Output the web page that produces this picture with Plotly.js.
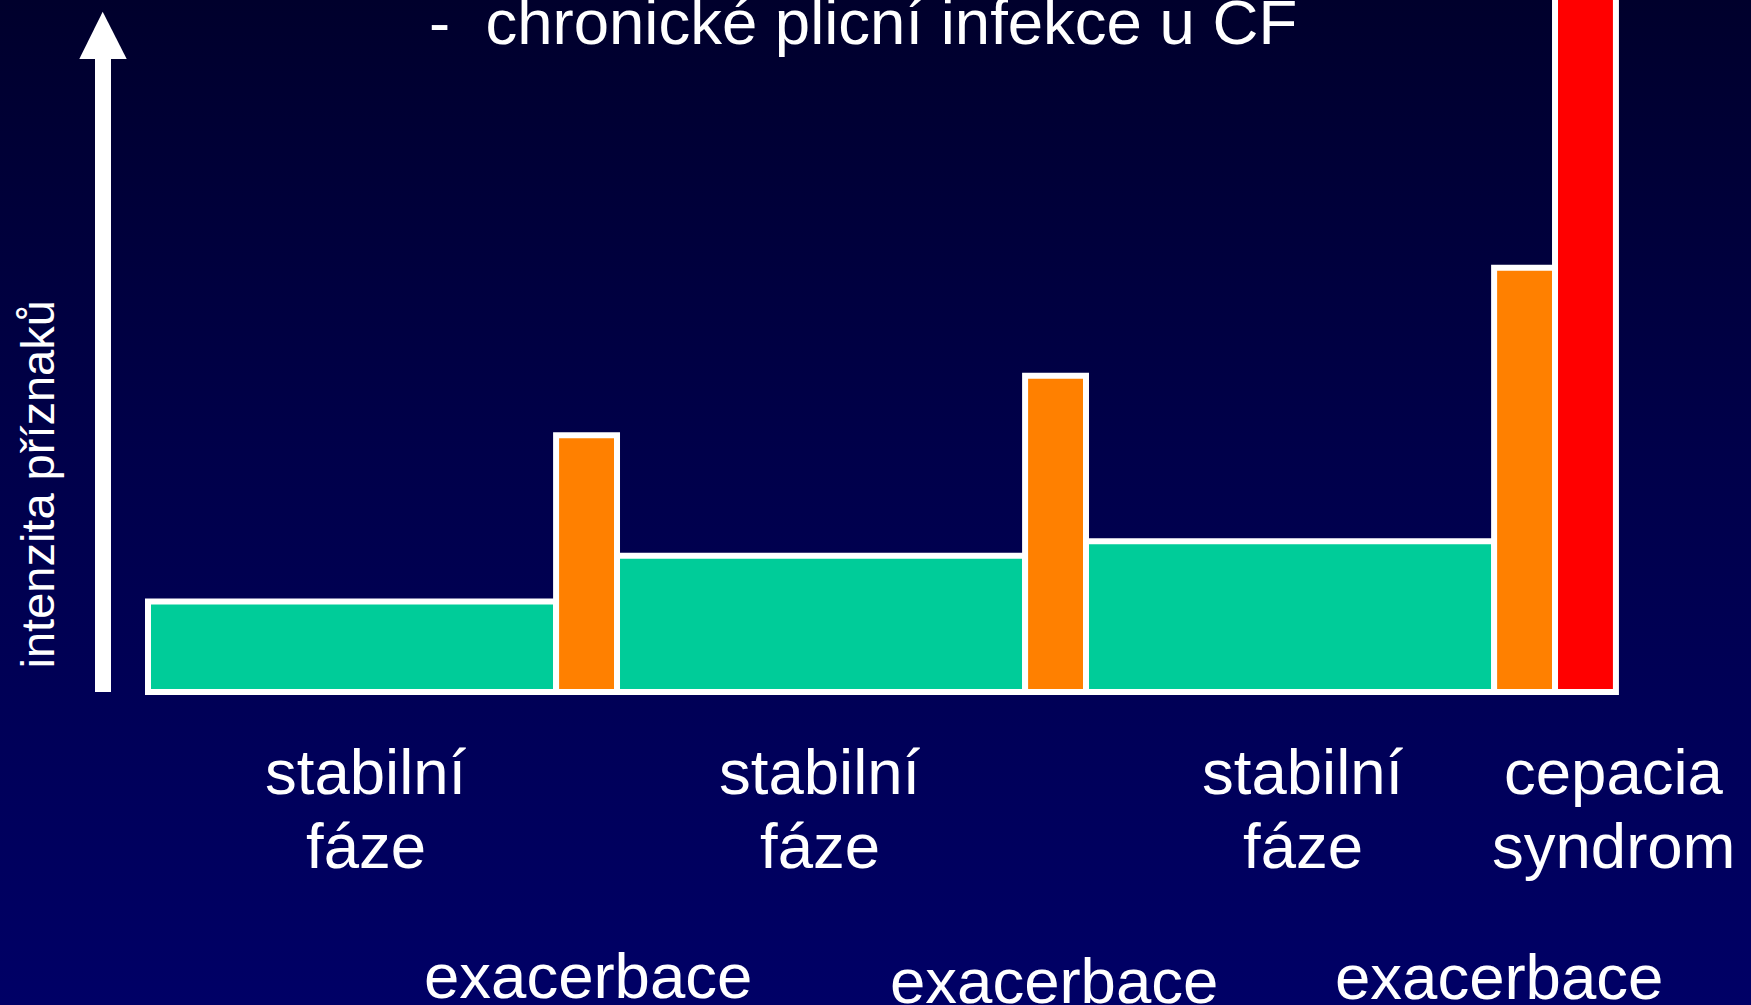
<!DOCTYPE html>
<html>
<head>
<meta charset="utf-8">
<script src="https://cdn.plot.ly/plotly-3.0.1.min.js"></script>
<style>
  html, body { margin: 0; padding: 0; width: 1751px; height: 1005px; overflow: hidden;
    background: linear-gradient(to bottom, #00002c 0%, #00004a 45%, #000066 100%); }
  #chart { width: 1751px; height: 1005px; }
</style>
</head>
<body>
<div id="chart"></div>
<script>
// ---- data ----
const phases = ["stabilní fáze", "exacerbace", "stabilní fáze", "exacerbace", "stabilní fáze", "exacerbace", "cepacia syndrom"];
const durations = [6.7, 1, 6.7, 1, 6.7, 1, 1];           // relative length of each phase
const intensity = [1.31, 3.71, 1.97, 4.57, 2.18, 6.13, 11]; // symptom intensity (last one runs off the top)
const phaseColors = ["#00CC99", "#FF8000", "#00CC99", "#FF8000", "#00CC99", "#FF8000", "#FF0000"];

const titleText = "-\u00a0\u00a0chronické plicní infekce u CF";
const yLabel = "intenzita příznaků";
// labels under the chart: [line1, line2]
const upperLabels = [["stabilní", "fáze"], ["stabilní", "fáze"], ["stabilní", "fáze"], ["cepacia", "syndrom"]];
const upperLabelBars = [0, 2, 4, 6];
const lowerLabels = ["exacerbace", "exacerbace", "exacerbace"];
const lowerLabelBars = [1, 3, 5];

// ---- layout helpers (positions only) ----
const W = 1751, H = 1005, plotH = 699;
const py = p => (plotH - p) / plotH;   // pixel row -> paper y
const pxp = p => p / W;                // pixel col -> paper x
const upperShift = [14, -1, 13, 29];
const lowerShift = [1, -1.5, -26];
const lowerRowCenter = [976, 981, 977];

const starts = [];
let acc = 0;
durations.forEach(d => { starts.push(acc); acc += d; });
const centers = starts.map((s, i) => s + durations[i] / 2);

const FONT = "Liberation Sans, Arial, sans-serif";
const big = 63.5;

const trace = {
  type: "bar",
  x: starts,
  y: intensity,
  width: durations,
  offset: 0,
  marker: { color: phaseColors, line: { color: "#FFFFFF", width: 6 } },
  text: phases,
  textposition: "none",
  hoverinfo: "skip",
  showlegend: false
};

const annotations = [];
annotations.push({
  xref: "paper", yref: "paper", x: pxp(429), y: py(22), xanchor: "left", yanchor: "middle",
  text: titleText, showarrow: false, borderpad: 0, borderwidth: 0,
  font: { family: FONT, size: big, color: "#FFFFFF" }
});
annotations.push({
  xref: "paper", yref: "paper", x: pxp(37), y: py(484.5), xanchor: "center", yanchor: "middle",
  text: yLabel, textangle: -90, showarrow: false, borderpad: 0, borderwidth: 0,
  font: { family: FONT, size: 47, color: "#FFFFFF" }
});
upperLabels.forEach((lines, i) => {
  const b = upperLabelBars[i];
  [771.5, 846].forEach((row, j) => {
    annotations.push({
      xref: "x", yref: "paper", x: centers[b], xshift: upperShift[i], y: py(row),
      xanchor: "center", yanchor: "middle", text: lines[j], showarrow: false,
      borderpad: 0, borderwidth: 0, font: { family: FONT, size: big, color: "#FFFFFF" }
    });
  });
});
lowerLabels.forEach((t, i) => {
  const b = lowerLabelBars[i];
  annotations.push({
    xref: "x", yref: "paper", x: centers[b], xshift: lowerShift[i], y: py(lowerRowCenter[i]),
    xanchor: "center", yanchor: "middle", text: t, showarrow: false,
    borderpad: 0, borderwidth: 0, font: { family: FONT, size: big, color: "#FFFFFF" }
  });
});

// axis arrow (decorative)
const shapes = [
  { type: "rect", xref: "paper", yref: "paper", x0: pxp(95), x1: pxp(111), y0: py(692), y1: py(57),
    fillcolor: "#FFFFFF", line: { width: 0 }, layer: "above" },
  { type: "path", xref: "paper", yref: "paper",
    path: `M ${pxp(79.3)} ${py(59)} L ${pxp(126.7)} ${py(59)} L ${pxp(102.7)} ${py(11.7)} Z`,
    fillcolor: "#FFFFFF", line: { width: 0 }, layer: "above" }
];

const k = 60.91; // px per x unit
const layout = {
  width: W, height: H,
  margin: { l: 0, r: 0, t: 0, b: H - plotH, pad: 0 },
  paper_bgcolor: "rgba(0,0,0,0)",
  plot_bgcolor: "rgba(0,0,0,0)",
  xaxis: { range: [-148 / k, (W - 148) / k], showgrid: false, zeroline: false, showline: false,
           showticklabels: false, ticks: "", fixedrange: true },
  yaxis: { range: [-0.1, 10], showgrid: false, zeroline: false, showline: false,
           showticklabels: false, ticks: "", fixedrange: true },
  annotations: annotations,
  shapes: shapes,
  showlegend: false
};

Plotly.newPlot("chart", [trace], layout, { staticPlot: true, displayModeBar: false });
</script>
</body>
</html>
